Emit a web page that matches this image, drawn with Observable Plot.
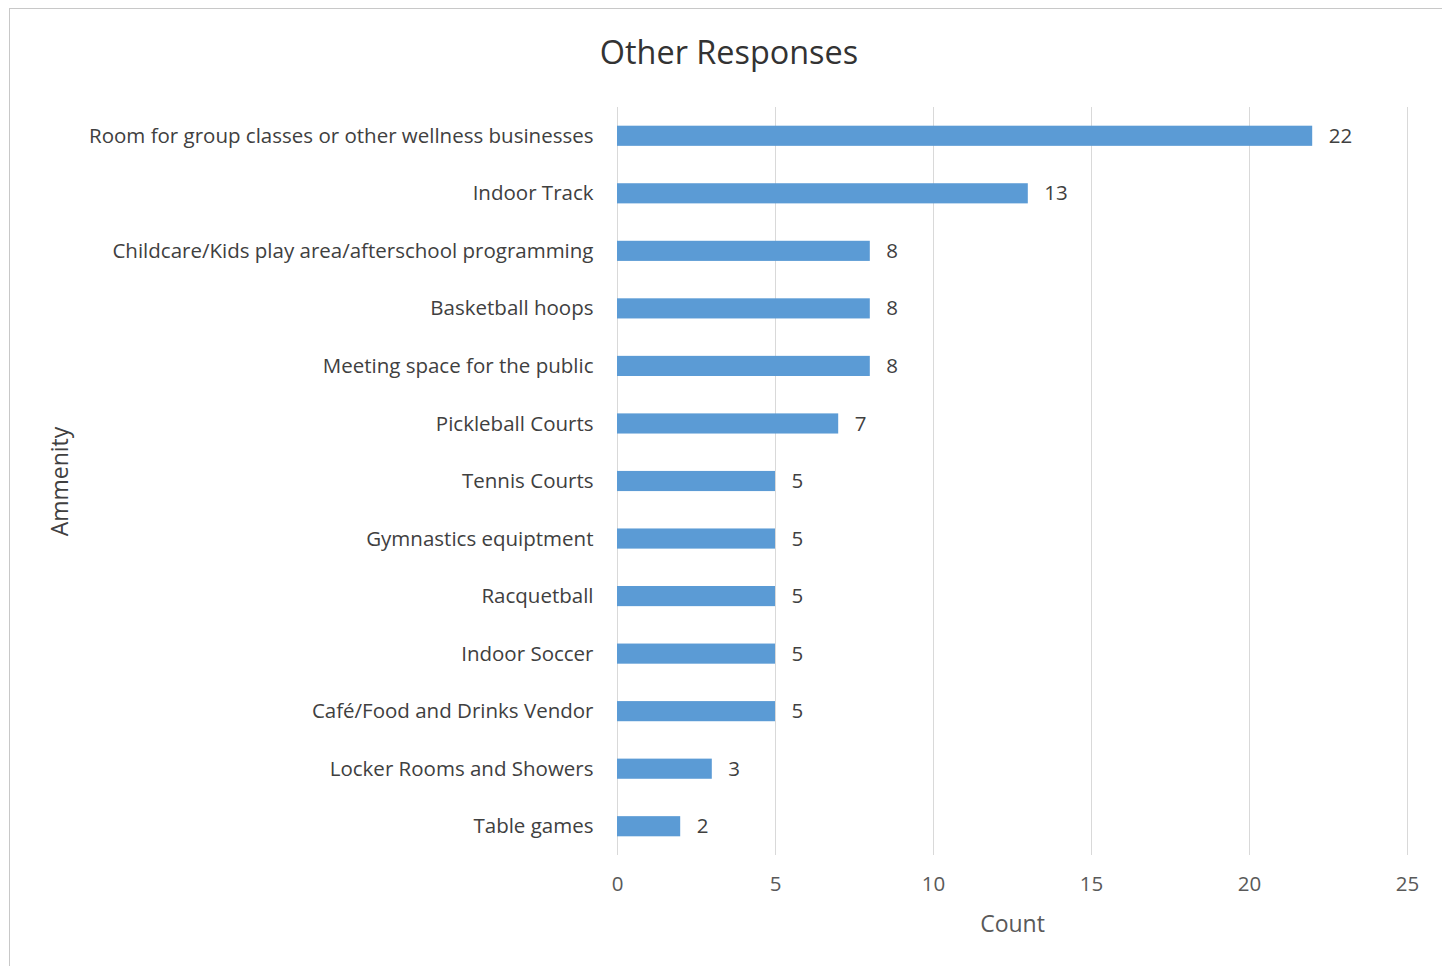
<!DOCTYPE html>
<html>
<head>
<meta charset="utf-8">
<script src="https://cdn.jsdelivr.net/npm/d3@7"></script>
<script src="https://cdn.jsdelivr.net/npm/@observablehq/plot@0.6"></script>
<style>
  html, body { margin: 0; padding: 0; background: #fff; }
  #wrap { position: relative; width: 1442px; height: 966px; overflow: hidden; font-family: "Open Sans", sans-serif; }
  #frame { position: absolute; left: 9px; top: 8px; width: 1500px; height: 1000px; border: 1px solid #c8c8c8; box-sizing: border-box; }
  #title { position: absolute; left: 0; width: 1458px; top: 29px; text-align: center; font-size: 32.4px; color: #333; }
  #chart { position: absolute; left: 0; top: 0; }
  #chart svg g[aria-label="x-axis label"] text,
  #chart svg g[aria-label="y-axis label"] text { font-size: 23px; }
</style>
</head>
<body>
<div id="wrap">
  <div id="frame"></div>
  <div id="chart"></div>
  <div id="title">Other Responses</div>
</div>
<script>
const categories = [
  "Room for group classes or other wellness businesses",
  "Indoor Track",
  "Childcare/Kids play area/afterschool programming",
  "Basketball hoops",
  "Meeting space for the public",
  "Pickleball Courts",
  "Tennis Courts",
  "Gymnastics equiptment",
  "Racquetball",
  "Indoor Soccer",
  "Café/Food and Drinks Vendor",
  "Locker Rooms and Showers",
  "Table games"
];
const counts = [22, 13, 8, 8, 8, 7, 5, 5, 5, 5, 5, 3, 2];
const xTicks = [0, 5, 10, 15, 20, 25];

const data = categories.map((c, i) => ({amenity: c, count: counts[i]}));

const chart = Plot.plot({
  width: 1442,
  height: 966,
  marginLeft: 617,
  marginRight: 35,
  marginTop: 107,
  marginBottom: 111,
  style: {fontFamily: "'Open Sans', sans-serif", fontSize: "20.5px", color: "#404040", background: "transparent", overflow: "visible"},
  x: {domain: [0, 25], ticks: xTicks, round: false},
  y: {domain: categories, paddingInner: 0.65, paddingOuter: 0.325, round: false},
  marks: [
    Plot.gridX(xTicks, {stroke: "#d9d9d9", strokeOpacity: 1, strokeWidth: 1}),
    Plot.barX(data, {x: "count", y: "amenity", fill: "#5b9bd5"}),
    Plot.text(data, {x: "count", y: "amenity", text: d => String(d.count), textAnchor: "start", dx: 16, fill: "#404040", fontSize: 20.5}),
    Plot.axisX({ticks: xTicks, tickSize: 0, tickPadding: 21, fill: "#595959", label: "Count", labelAnchor: "center", labelOffset: 76, labelArrow: "none"}),
    Plot.axisY({tickSize: 0, tickPadding: 24, fill: "#404040", label: "Ammenity", labelAnchor: "center", labelOffset: 566, labelArrow: "none"})
  ]
});
document.getElementById("chart").appendChild(chart);
</script>
</body>
</html>
